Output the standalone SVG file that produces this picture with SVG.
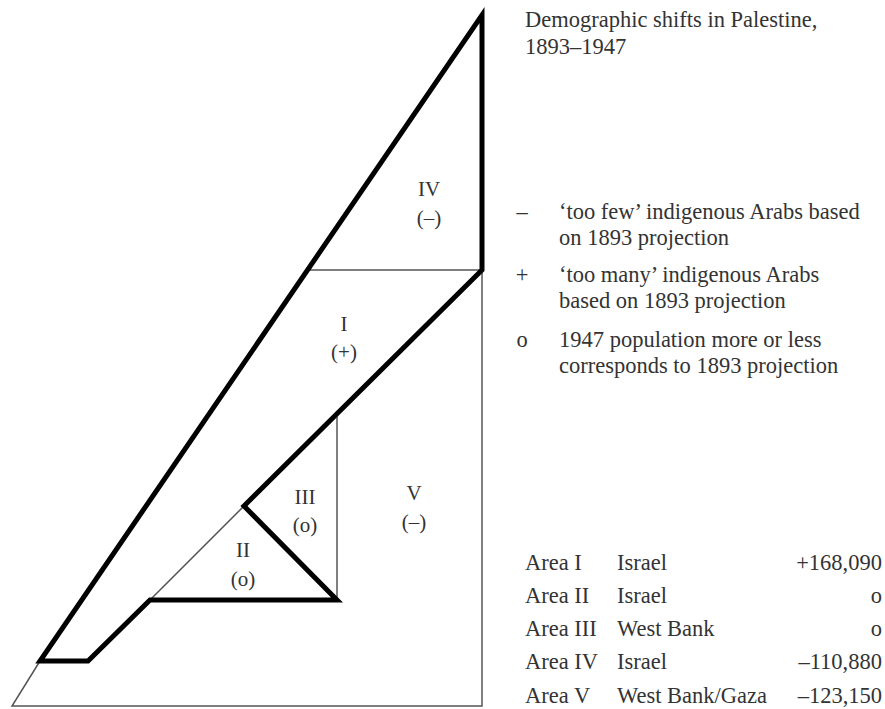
<svg xmlns="http://www.w3.org/2000/svg" width="885" height="709" viewBox="0 0 885 709">
<style>
.thick{fill:none;stroke:#000;stroke-width:5;stroke-linejoin:miter;stroke-miterlimit:6}
.thin{fill:none;stroke:#555;stroke-width:1.5}
text{font-family:"Liberation Serif","Times New Roman",serif;fill:#333;font-size:22.5px}
.lbl{text-anchor:middle;font-size:21px}
.num{text-anchor:end}
.sym{text-anchor:middle}
</style>
<rect width="885" height="709" fill="#fff"/>
<g id="lines">
<path class="thin" d="M307,270 H482 V706 H12 L40,661"/>
<path class="thin" d="M150,600 L244,506"/>
<path class="thin" d="M337,414 V600"/>
<path class="thick" d="M150,600 L337,600 L244,506 L482,270 L482,15 L40,661 L88,661 Z"/>
</g>
<g id="area-IV"><text class="lbl" x="429" y="196">IV</text><text class="lbl" x="429" y="225">(–)</text></g>
<g id="area-I"><text class="lbl" x="344" y="331">I</text><text class="lbl" x="344" y="359">(+)</text></g>
<g id="area-III"><text class="lbl" x="305" y="504">III</text><text class="lbl" x="305" y="532">(o)</text></g>
<g id="area-II"><text class="lbl" x="243" y="557">II</text><text class="lbl" x="243" y="586">(o)</text></g>
<g id="area-V"><text class="lbl" x="414" y="500">V</text><text class="lbl" x="414" y="529">(–)</text></g>
<g id="title">
<text x="525" y="27">Demographic shifts in Palestine,</text>
<text x="525" y="54">1893–1947</text>
</g>
<g id="legend">
<text class="sym" x="522" y="219">–</text><text x="559" y="219">‘too few’ indigenous Arabs based</text>
<text x="559" y="245">on 1893 projection</text>
<text class="sym" x="522" y="282">+</text><text x="559" y="282">‘too many’ indigenous Arabs</text>
<text x="559" y="308">based on 1893 projection</text>
<text class="sym" x="522" y="347">o</text><text x="559" y="347">1947 population more or less</text>
<text x="559" y="373">corresponds to 1893 projection</text>
</g>
<g id="table">
<text x="525" y="570">Area I</text><text x="617" y="570">Israel</text><text class="num" x="882" y="570">+168,090</text>
<text x="525" y="603">Area II</text><text x="617" y="603">Israel</text><text class="num" x="882" y="603">o</text>
<text x="525" y="636">Area III</text><text x="617" y="636">West Bank</text><text class="num" x="882" y="636">o</text>
<text x="525" y="669">Area IV</text><text x="617" y="669">Israel</text><text class="num" x="882" y="669">–110,880</text>
<text x="525" y="703">Area V</text><text x="617" y="703">West Bank/Gaza</text><text class="num" x="882" y="703">–123,150</text>
</g>
</svg>
